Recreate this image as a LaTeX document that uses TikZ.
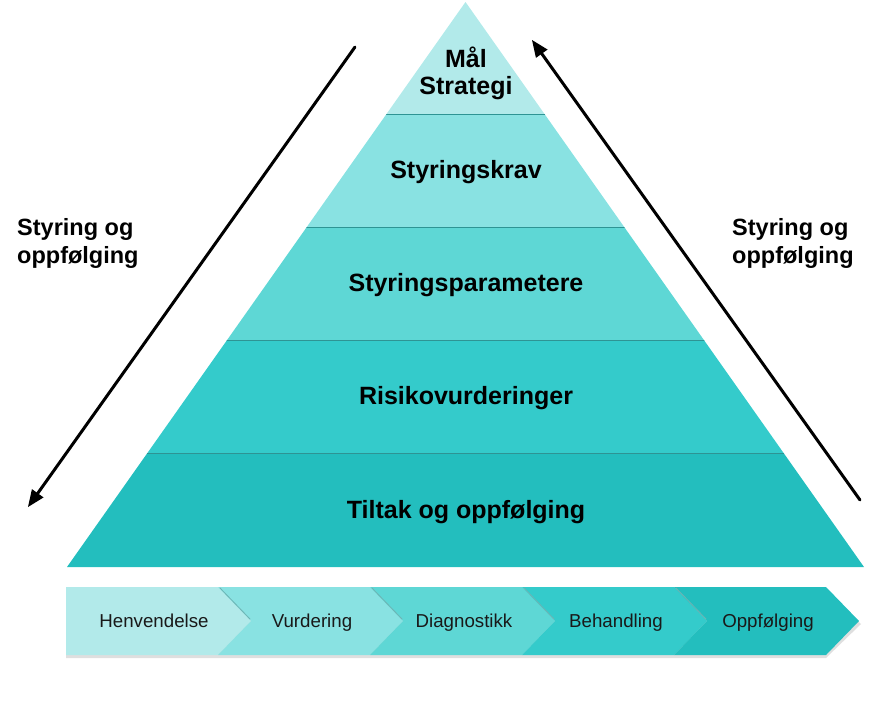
\documentclass[tikz,border=0pt]{standalone}
\usepackage{fontspec}
\setmainfont{Liberation Sans}
\usepackage{tikz}
\usetikzlibrary{calc}
\usetikzlibrary{arrows}
\definecolor{bbeeee}{rgb}{0.698,0.918,0.918}
\definecolor{aaddee}{rgb}{0.537,0.886,0.886}
\definecolor{ccdddd}{rgb}{0.369,0.843,0.835}
\definecolor{ddcccc}{rgb}{0.204,0.796,0.796}
\definecolor{eebbbb}{rgb}{0.137,0.745,0.745}
\definecolor{qqaaaa}{rgb}{0.18,0.58,0.58}
\definecolor{qqqqqq}{rgb}{0.1,0.1,0.1}
\tikzstyle{every node}=[inner sep=0pt]
\tikzstyle{lag}=[font=\fontsize{25}{27}\selectfont\bfseries, align=center]
\tikzstyle{side}=[font=\fontsize{23.5}{28}\selectfont\bfseries, align=left, anchor=west]
\tikzstyle{steg}=[font=\fontsize{18.7}{20}\selectfont, text=qqqqqq, anchor=base]

\begin{document}
\begin{tikzpicture}[line cap=round,line join=round,>=triangle 45,x=1pt,y=-1pt]
            \useasboundingbox (0,0) rectangle (875,712);
            % pyramiden
            \fill [color=bbeeee] (465.5,2) -- (544.5,114) -- (386.5,114) -- cycle;
            \fill [color=aaddee] (386.5,114) -- (544.5,114) -- (624.2,227) -- (306.8,227) -- cycle;
            \fill [color=ccdddd] (306.8,227) -- (624.2,227) -- (703.9,340) -- (227.1,340) -- cycle;
            \fill [color=ddcccc] (227.1,340) -- (703.9,340) -- (783.6,453) -- (147.4,453) -- cycle;
            \fill [color=eebbbb] (147.4,453) -- (783.6,453) -- (864,567) -- (67,567) -- cycle;
            \draw [line width=1pt,color=qqaaaa] (386.5,114) -- (544.5,114);
            \draw [line width=1pt,color=qqaaaa] (306.8,227) -- (624.2,227);
            \draw [line width=1pt,color=qqaaaa] (227.1,340) -- (703.9,340);
            \draw [line width=1pt,color=qqaaaa] (147.4,453) -- (783.6,453);
            \node [lag] (maal) at (466,73) {Mål\\Strategi};
            \node [lag, anchor=base] (krav) at (466,178) {Styringskrav};
            \node [lag, anchor=base] (param) at (466,291) {Styringsparametere};
            \node [lag, anchor=base] (risiko) at (466,404) {Risikovurderinger};
            \node [lag, anchor=base] (tiltak) at (466,518) {Tiltak og oppfølging};
            % piler og sidetekst
            \coordinate (vstart) at (355,47);
            \coordinate (vslutt) at (28,507);
            \coordinate (hstart) at (860,500);
            \coordinate (hslutt) at (532,40);
            \draw [->,line width=3pt] (vstart) -- (vslutt);
            \draw [->,line width=3pt] (hstart) -- (hslutt);
            \node [side] (venstre) at (17,243) {Styring og\\oppfølging};
            \node [side] (hoyre) at (732,243) {Styring og\\oppfølging};
            % prosesslinjen
            \fill [color=gray!25] (66,590) -- (826,590) -- (861,624) -- (826,658) -- (66,658) -- cycle;
            \fill [color=bbeeee] (66,587) -- (218,587) -- (251,621) -- (218,655) -- (66,655) -- cycle;
            \fill [color=aaddee] (218,587) -- (370,587) -- (403,621) -- (370,655) -- (218,655) -- (251,621) -- cycle;
            \fill [color=ccdddd] (370,587) -- (522,587) -- (555,621) -- (522,655) -- (370,655) -- (403,621) -- cycle;
            \fill [color=ddcccc] (522,587) -- (674,587) -- (707,621) -- (674,655) -- (522,655) -- (555,621) -- cycle;
            \fill [color=eebbbb] (674,587) -- (826,587) -- (859,621) -- (826,655) -- (674,655) -- (707,621) -- cycle;
            \draw [line width=0.8pt,color=qqaaaa!70] (220,588) -- (250,619);
            \draw [line width=0.8pt,color=qqaaaa!70] (372,588) -- (402,619);
            \draw [line width=0.8pt,color=qqaaaa!70] (524,588) -- (554,619);
            \draw [line width=0.8pt,color=qqaaaa!70] (676,588) -- (706,619);
            \node [steg] (henv) at (154,627) {Henvendelse};
            \node [steg] (vurd) at (312,627) {Vurdering};
            \node [steg] (diag) at (464,627) {Diagnostikk};
            \node [steg] (beh) at (616,627) {Behandling};
            \node [steg] (oppf) at (768,627) {Oppfølging};
            \end{tikzpicture}
\end{document}
